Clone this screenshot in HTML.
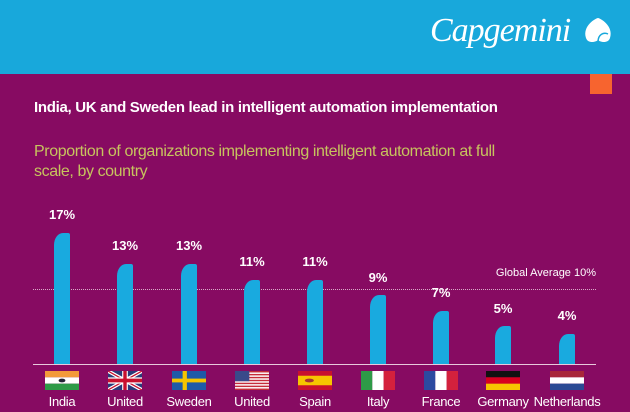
<!DOCTYPE html>
<html><head><meta charset="utf-8"><style>
body{margin:0;width:630px;height:412px;overflow:hidden;background:#870B62;font-family:"Liberation Sans",sans-serif;position:relative}
.hdr{position:absolute;left:0;top:0;width:630px;height:74px;background:#18A8DB}
.logo{position:absolute;left:430px;top:12px;color:#fff;font-family:"Liberation Serif",serif;font-style:italic;font-size:34px;letter-spacing:-1px}
.or{position:absolute;left:590px;top:74px;width:22px;height:20px;background:#F7642F}
.t{position:absolute;left:34px;top:99px;color:#fff;font-weight:bold;font-size:15px;letter-spacing:-0.3px}
.s{position:absolute;left:34px;top:142px;color:#C7C35E;font-size:16px;line-height:20px;width:530px;letter-spacing:-0.4px}
.bar{position:absolute;width:16px;background:#19AADF;border-top-left-radius:9px 12px;border-top-right-radius:2px}
.v{position:absolute;width:60px;text-align:center;color:#fff;font-weight:bold;font-size:13px}
.f{position:absolute;top:371px;width:34px;height:19px}
.n{position:absolute;top:394px;width:70px;text-align:center;color:#fff;font-size:13px;letter-spacing:-0.3px}
</style></head><body>
<div class="hdr"></div>
<div class="logo">Capgemini</div>
<svg style="position:absolute;left:582px;top:16px" width="32" height="30"><path d="M4 22 C0 10 14 2 16 2 C18 2 32 10 28 22 C26 28 18 26 16 24 C14 26 6 28 4 22Z" fill="#fff"/><path d="M16 26 C16 18 22 16 26 18" stroke="#18A8DB" stroke-width="1.5" fill="none"/></svg>
<div class="or"></div>
<div class="t">India, UK and Sweden lead in intelligent automation implementation</div>
<div class="s">Proportion of organizations implementing intelligent automation at full<br>scale, by country</div>
<div style="position:absolute;left:33px;top:289px;width:563px;border-top:1px dotted #d9a9c8"></div>
<div style="position:absolute;left:400px;width:196px;text-align:right;top:267px;color:#fff;font-size:11px">Global Average 10%</div>
<div style="position:absolute;left:33px;top:364px;width:563px;height:1px;background:#e8c9dc"></div>

<div class="bar" style="left:54px;top:233px;height:131px"></div><div class="v" style="left:32px;top:207px">17%</div>
<div class="bar" style="left:117px;top:264px;height:100px"></div><div class="v" style="left:95px;top:238px">13%</div>
<div class="bar" style="left:181px;top:264px;height:100px"></div><div class="v" style="left:159px;top:238px">13%</div>
<div class="bar" style="left:244px;top:280px;height:84px"></div><div class="v" style="left:222px;top:254px">11%</div>
<div class="bar" style="left:307px;top:280px;height:84px"></div><div class="v" style="left:285px;top:254px">11%</div>
<div class="bar" style="left:370px;top:295px;height:69px"></div><div class="v" style="left:348px;top:270px">9%</div>
<div class="bar" style="left:433px;top:311px;height:53px"></div><div class="v" style="left:411px;top:285px">7%</div>
<div class="bar" style="left:495px;top:326px;height:38px"></div><div class="v" style="left:473px;top:301px">5%</div>
<div class="bar" style="left:559px;top:334px;height:30px"></div><div class="v" style="left:537px;top:308px">4%</div>

<svg class="f" style="left:45px" viewBox="0 0 3 3" preserveAspectRatio="none"><rect width="3" height="1" fill="#F39A3A"/><rect y="1" width="3" height="1" fill="#fff"/><rect y="2" width="3" height="1" fill="#2E9A47"/><circle cx="1.5" cy="1.5" r=".3" fill="#223"/></svg>
<svg class="f" style="left:108px" viewBox="0 0 60 30" preserveAspectRatio="none"><rect width="60" height="30" fill="#2A3A7A"/><path d="M0 0L60 30M60 0L0 30" stroke="#fff" stroke-width="6"/><path d="M0 0L60 30M60 0L0 30" stroke="#C8102E" stroke-width="2"/><path d="M30 0V30M0 15H60" stroke="#fff" stroke-width="10"/><path d="M30 0V30M0 15H60" stroke="#C8102E" stroke-width="6"/></svg>
<svg class="f" style="left:172px" viewBox="0 0 16 10" preserveAspectRatio="none"><rect width="16" height="10" fill="#1E5AA8"/><rect x="5" width="2" height="10" fill="#F5C400"/><rect y="4" width="16" height="2" fill="#F5C400"/></svg>
<svg class="f" style="left:235px" viewBox="0 0 19 13" preserveAspectRatio="none"><rect width="19" height="13" fill="#fff"/><g fill="#C62D3A"><rect width="19" height="1"/><rect y="2" width="19" height="1"/><rect y="4" width="19" height="1"/><rect y="6" width="19" height="1"/><rect y="8" width="19" height="1"/><rect y="10" width="19" height="1"/><rect y="12" width="19" height="1"/></g><rect width="8" height="7" fill="#3A4A8A"/></svg>
<svg class="f" style="left:298px" viewBox="0 0 3 4" preserveAspectRatio="none"><rect width="3" height="4" fill="#C8102E"/><rect y="1" width="3" height="2" fill="#F6C500"/><circle cx="1" cy="2" r=".4" fill="#a33"/></svg>
<svg class="f" style="left:361px" viewBox="0 0 3 1" preserveAspectRatio="none"><rect width="1" height="1" fill="#2E9A47"/><rect x="1" width="1" height="1" fill="#fff"/><rect x="2" width="1" height="1" fill="#D4213D"/></svg>
<svg class="f" style="left:424px" viewBox="0 0 3 1" preserveAspectRatio="none"><rect width="1" height="1" fill="#2C4AA0"/><rect x="1" width="1" height="1" fill="#fff"/><rect x="2" width="1" height="1" fill="#D4213D"/></svg>
<svg class="f" style="left:486px" viewBox="0 0 1 3" preserveAspectRatio="none"><rect width="1" height="1" fill="#111"/><rect y="1" width="1" height="1" fill="#D8001F"/><rect y="2" width="1" height="1" fill="#F8C400"/></svg>
<svg class="f" style="left:550px" viewBox="0 0 1 3" preserveAspectRatio="none"><rect width="1" height="1" fill="#A8263A"/><rect y="1" width="1" height="1" fill="#fff"/><rect y="2" width="1" height="1" fill="#2A4A94"/></svg>

<div class="n" style="left:27px">India</div>
<div class="n" style="left:90px">United</div>
<div class="n" style="left:154px">Sweden</div>
<div class="n" style="left:217px">United</div>
<div class="n" style="left:280px">Spain</div>
<div class="n" style="left:343px">Italy</div>
<div class="n" style="left:406px">France</div>
<div class="n" style="left:468px">Germany</div>
<div class="n" style="left:527px;width:80px">Netherlands</div>
</body></html>
